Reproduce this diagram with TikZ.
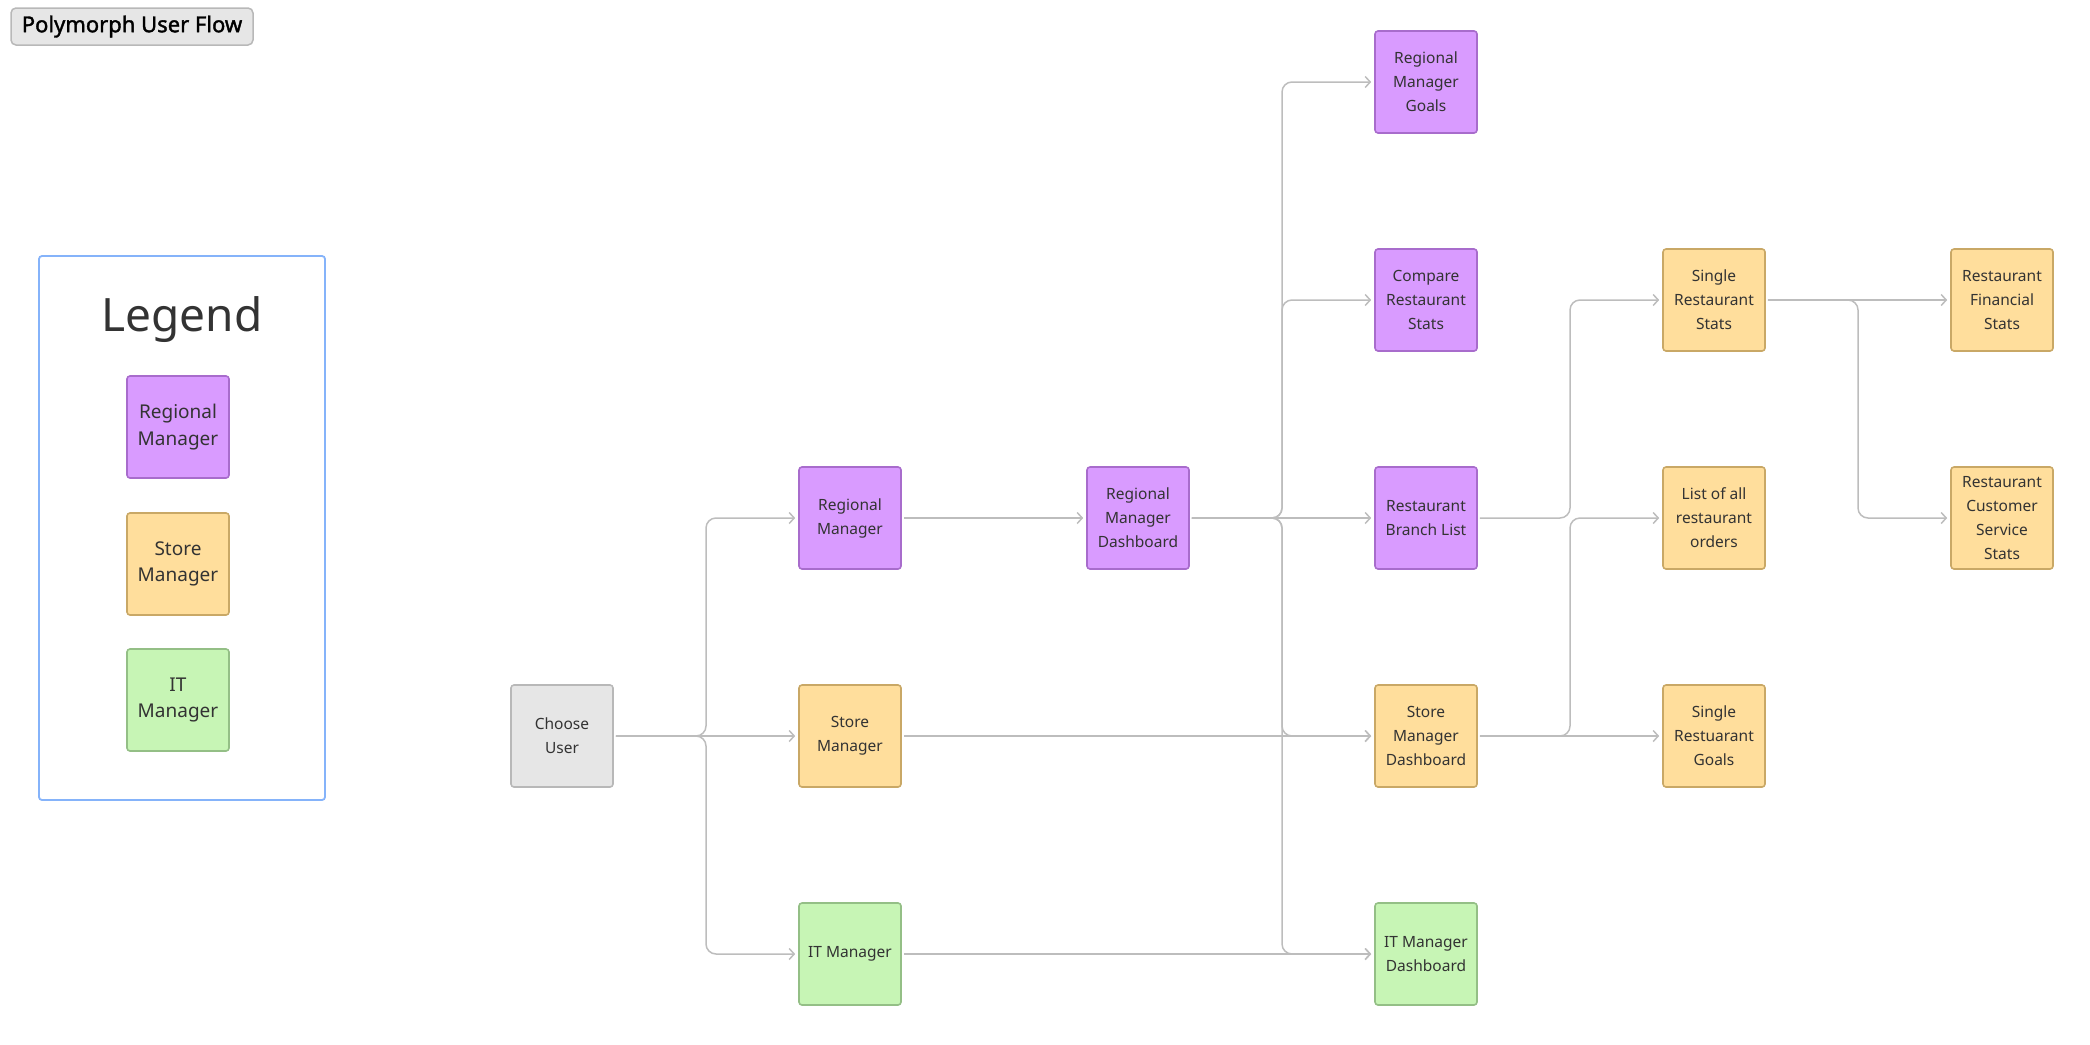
\documentclass[tikz,border=0pt]{standalone}
\usepackage{fontspec}
\setmainfont{Noto Sans}
\newfontfamily\titlefont{Noto Sans}[FakeBold=1.6]
\usetikzlibrary{arrows.meta}
\definecolor{rmfill}{HTML}{D99BFF}
\definecolor{rmline}{HTML}{A86CCC}
\definecolor{smfill}{HTML}{FFDE9C}
\definecolor{smline}{HTML}{C9A866}
\definecolor{itfill}{HTML}{C7F5B5}
\definecolor{itline}{HTML}{94BF86}
\definecolor{cufill}{HTML}{E6E6E6}
\definecolor{culine}{HTML}{B8B8B8}
\definecolor{linkgray}{HTML}{BDBDBD}
\definecolor{legendline}{HTML}{85B3FA}
\definecolor{inkgray}{HTML}{333333}

\begin{document}
\begin{tikzpicture}[x = 1pt, y = -1pt]
\tikzstyle{Box}=[rectangle, rounded corners = 3pt,
                 line width = 1.6pt,
                 minimum width = 102pt, minimum height = 102pt,
                 inner sep = 0pt, align = center, text = inkgray,
                 font = \fontsize{15.5}{24}\selectfont]
\tikzstyle{RM}=[Box, fill = rmfill, draw = rmline]
\tikzstyle{SM}=[Box, fill = smfill, draw = smline]
\tikzstyle{IT}=[Box, fill = itfill, draw = itline]
\tikzstyle{CU}=[Box, fill = cufill, draw = culine]
\tikzstyle{Key}=[font = \fontsize{19}{26.7}\selectfont]
\tikzstyle{Link}=[draw = linkgray, line width = 1.5pt, rounded corners = 10pt,
                  -{Straight Barb[length = 5pt, width = 11pt]},
                  shorten < = 2pt, shorten > = 3pt]
\useasboundingbox (0,0) rectangle (2090,1044);
\node[rectangle, rounded corners = 5pt, fill = cufill, draw = culine, line width = 1.5pt,
      minimum width = 242pt, minimum height = 37pt, text = black,
      font = \titlefont\fontsize{22}{24}\selectfont] (title) at (132,26.5) {Polymorph User Flow};
\node[rectangle, rounded corners = 3pt, draw = legendline, line width = 1.8pt,
      minimum width = 286pt, minimum height = 544pt] (legend) at (182,528) {};
\node[text = inkgray, font = \fontsize{46}{52}\selectfont] (legendtitle) at (182,320) {Legend};
\node[RM, Key] (keyrm) at (178,427) {Regional\\Manager};
\node[SM, Key] (keysm) at (178,564) {Store\\Manager};
\node[IT, Key] (keyit) at (178,700) {IT\\Manager};
\node[CU] (cu) at (562,736) {Choose\\User};
\node[RM] (rm) at (850,518) {Regional\\Manager};
\node[SM] (sm) at (850,736) {Store\\Manager};
\node[IT] (it) at (850,954) {IT Manager};
\node[RM] (rmd) at (1138,518) {Regional\\Manager\\Dashboard};
\node[RM] (rmg) at (1426,82) {Regional\\Manager\\Goals};
\node[RM] (crs) at (1426,300) {Compare\\Restaurant\\Stats};
\node[RM] (rbl) at (1426,518) {Restaurant\\Branch List};
\node[SM] (smd) at (1426,736) {Store\\Manager\\Dashboard};
\node[IT] (itd) at (1426,954) {IT Manager\\Dashboard};
\node[SM] (srs) at (1714,300) {Single\\Restaurant\\Stats};
\node[SM] (lro) at (1714,518) {List of all\\restaurant\\orders};
\node[SM] (srg) at (1714,736) {Single\\Restuarant\\Goals};
\node[SM] (rfs) at (2002,300) {Restaurant\\Financial\\Stats};
\node[SM] (rcs) at (2002,518) {Restaurant\\Customer\\Service\\Stats};
\coordinate (bus1) at (706,0);
\coordinate (bus2) at (1282,0);
\coordinate (bus3) at (1570,0);
\coordinate (bus4) at (1858,0);
\draw[Link] (cu.east) -- (cu.east -| bus1) |- (rm.west);
\draw[Link] (cu.east) -- (sm.west);
\draw[Link] (cu.east) -- (cu.east -| bus1) |- (it.west);
\draw[Link] (rm.east) -- (rmd.west);
\draw[Link] (sm.east) -- (smd.west);
\draw[Link] (it.east) -- (itd.west);
\draw[Link] (rmd.east) -- (rmd.east -| bus2) |- (rmg.west);
\draw[Link] (rmd.east) -- (rmd.east -| bus2) |- (crs.west);
\draw[Link] (rmd.east) -- (rbl.west);
\draw[Link] (rmd.east) -- (rmd.east -| bus2) |- (smd.west);
\draw[Link] (rmd.east) -- (rmd.east -| bus2) |- (itd.west);
\draw[Link] (rbl.east) -- (rbl.east -| bus3) |- (srs.west);
\draw[Link] (smd.east) -- (smd.east -| bus3) |- (lro.west);
\draw[Link] (smd.east) -- (srg.west);
\draw[Link] (srs.east) -- (rfs.west);
\draw[Link] (srs.east) -- (srs.east -| bus4) |- (rcs.west);
\end{tikzpicture}
\end{document}
